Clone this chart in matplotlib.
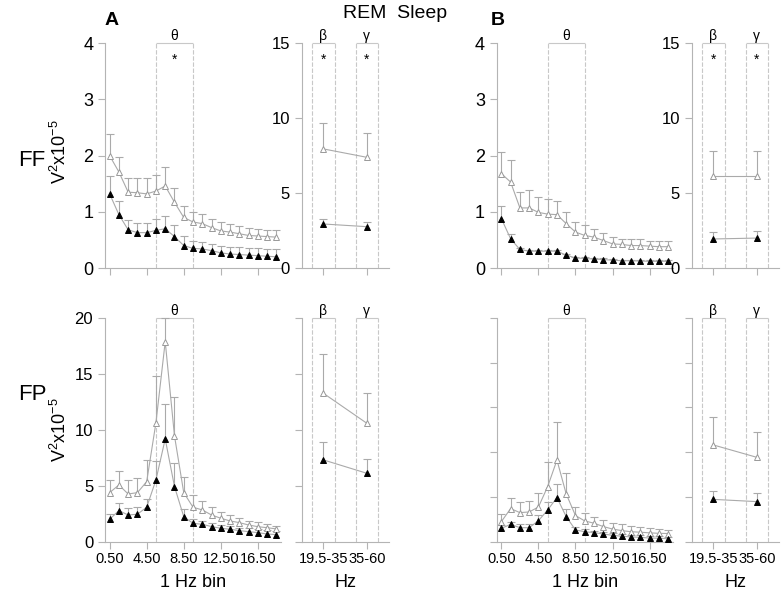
import numpy as np
import matplotlib.pyplot as plt

plt.rcParams['font.family'] = ['Liberation Sans', 'DejaVu Sans']
plt.rcParams['mathtext.fontset'] = 'custom'
plt.rcParams['mathtext.rm'] = 'Liberation Sans'
plt.rcParams['mathtext.it'] = 'Liberation Sans'

# 1 Hz bins 0.5 .. 18.5
bins = np.arange(0.5, 19, 1.0)
bin_ticks = [0.5, 4.5, 8.5, 12.5, 16.5]
bin_labels = ['0.50', '4.50', '8.50', '12.50', '16.50']
band_labels = ['19.5-35', '35-60']
band_names = ['β', 'γ']

# --- A, FF ---
a_ff_open = [2.0, 1.71, 1.35, 1.34, 1.32, 1.37, 1.46, 1.17, 0.90, 0.82, 0.79, 0.72, 0.66, 0.64, 0.61, 0.58, 0.57, 0.56, 0.55]
a_ff_open_top = [2.38, 1.98, 1.6, 1.6, 1.6, 1.65, 1.8, 1.43, 1.1, 0.99, 0.96, 0.88, 0.82, 0.78, 0.75, 0.71, 0.70, 0.68, 0.67]
a_ff_fill = [1.32, 0.95, 0.68, 0.63, 0.63, 0.67, 0.70, 0.56, 0.40, 0.35, 0.34, 0.31, 0.27, 0.25, 0.24, 0.23, 0.22, 0.21, 0.20]
a_ff_fill_top = [1.64, 1.2, 0.86, 0.8, 0.8, 0.88, 0.93, 0.76, 0.57, 0.48, 0.46, 0.43, 0.40, 0.38, 0.37, 0.36, 0.35, 0.34, 0.33]
a_ff_band_open = [7.95, 7.39]
a_ff_band_open_top = [9.67, 9.0]
a_ff_band_fill = [2.94, 2.76]
a_ff_band_fill_top = [3.27, 3.05]

# --- A, FP ---
a_fp_open = [4.42, 5.1, 4.3, 4.42, 5.4, 10.65, 17.86, 9.47, 4.42, 3.12, 2.88, 2.43, 2.14, 1.9, 1.75, 1.54, 1.39, 1.3, 1.19]
a_fp_open_top = [5.5, 6.35, 5.5, 5.7, 7.33, 14.8, 20.0, 12.9, 5.8, 4.2, 3.68, 3.18, 2.67, 2.43, 2.14, 1.9, 1.78, 1.63, 1.48]
a_fp_fill = [2.05, 2.82, 2.43, 2.5, 3.12, 5.55, 9.2, 4.96, 2.28, 1.69, 1.6, 1.4, 1.25, 1.16, 1.04, 0.95, 0.86, 0.74, 0.68]
a_fp_fill_top = [2.52, 3.47, 3.03, 3.18, 3.83, 7.24, 12.3, 7.03, 3.0, 2.08, 1.9, 1.69, 1.54, 1.45, 1.3, 1.25, 1.16, 1.1, 1.04]
a_fp_band_open = [13.26, 10.59]
a_fp_band_open_top = [16.77, 13.32]
a_fp_band_fill = [7.33, 6.14]
a_fp_band_fill_top = [8.96, 7.39]

# --- B, FF ---
b_ff_open = [1.68, 1.53, 1.07, 1.07, 0.99, 0.96, 0.95, 0.79, 0.64, 0.58, 0.55, 0.49, 0.43, 0.42, 0.40, 0.40, 0.39, 0.38, 0.38]
b_ff_open_top = [2.07, 1.93, 1.36, 1.39, 1.27, 1.23, 1.19, 1.0, 0.82, 0.76, 0.70, 0.63, 0.56, 0.52, 0.52, 0.51, 0.49, 0.49, 0.49]
b_ff_fill = [0.88, 0.52, 0.33, 0.30, 0.30, 0.30, 0.30, 0.23, 0.18, 0.17, 0.16, 0.15, 0.14, 0.13, 0.13, 0.125, 0.12, 0.12, 0.12]
b_ff_fill_top = [1.1, 0.6, 0.35, 0.32, 0.32, 0.32, 0.32, 0.25, 0.2, 0.19, 0.18, 0.17, 0.16, 0.15, 0.15, 0.145, 0.14, 0.14, 0.14]
b_ff_band_open = [6.17, 6.17]
b_ff_band_open_top = [7.8, 7.8]
b_ff_band_fill = [1.94, 2.0]
b_ff_band_fill_top = [2.43, 2.49]

# --- B, FP ---
b_fp_open = [0.92, 1.5, 1.32, 1.35, 1.57, 2.48, 3.66, 2.15, 1.19, 0.95, 0.85, 0.70, 0.59, 0.52, 0.47, 0.45, 0.42, 0.40, 0.39]
b_fp_open_top = [1.26, 1.99, 1.78, 1.85, 2.21, 3.56, 5.34, 3.07, 1.59, 1.29, 1.14, 0.99, 0.88, 0.80, 0.74, 0.67, 0.62, 0.59, 0.55]
b_fp_fill = [0.62, 0.80, 0.65, 0.65, 0.96, 1.44, 1.99, 1.14, 0.55, 0.47, 0.43, 0.37, 0.31, 0.27, 0.24, 0.22, 0.19, 0.18, 0.16]
b_fp_fill_top = [0.77, 0.92, 0.80, 0.80, 1.22, 1.78, 2.6, 1.47, 0.70, 0.59, 0.52, 0.47, 0.43, 0.38, 0.34, 0.31, 0.28, 0.26, 0.24]
b_fp_band_open = [4.33, 3.78]
b_fp_band_open_top = [5.59, 4.92]
b_fp_band_fill = [1.91, 1.81]
b_fp_band_fill_top = [2.30, 2.18]

AXIS = '#b4b4b4'
LINE = '#aaaaaa'
BOX = '#c8c8c8'


def style(ax, ymax, step, ylabels, size):
    for s in ['top', 'right']:
        ax.spines[s].set_visible(False)
    for s in ['left', 'bottom']:
        ax.spines[s].set_color(AXIS)
        ax.spines[s].set_linewidth(0.8)
    ax.set_ylim(0, ymax)
    ax.set_yticks(np.arange(0, ymax + 0.01, step))
    if not ylabels:
        ax.set_yticklabels([])
    ax.tick_params(color=AXIS, length=5, width=0.8, labelsize=size)
    ax.tick_params(axis='x', labelsize=10.5, pad=2)


def series(ax, x, y, top, filled):
    ax.vlines(x, y, top, color=LINE, lw=0.8, zorder=2, clip_on=False)
    ax.plot(x, top, ls='none', marker='_', ms=6, mew=0.8, color=LINE, clip_on=False)
    ax.plot(x, y, color=LINE, lw=0.8, marker='^', ms=5, clip_on=False, zorder=3,
            mfc='black' if filled else 'white', mec='black' if filled else '#999999', mew=0.7)


def box(ax, x0, x1, ymax, label):
    ax.vlines([x0, x1], 0, ymax, color=BOX, lw=0.8, linestyles=(0, (4, 1.5)), clip_on=False)
    ax.hlines(ymax, x0, x1, color=BOX, lw=0.8, clip_on=False)
    ax.text((x0 + x1) / 2, ymax, label, ha='center', va='bottom', fontsize=10)


def spectrum(rect, o, ot, f, ft, ymax, step, ylabels, xlabels, star, size):
    ax = fig.add_axes(rect)
    style(ax, ymax, step, ylabels, size)
    ax.set_xlim(0, 19)
    ax.set_xticks(bin_ticks)
    ax.set_xticklabels(bin_labels if xlabels else [])
    box(ax, 5.5, 9.5, ymax, 'θ')
    series(ax, bins, o, ot, False)
    series(ax, bins, f, ft, True)
    if star:
        ax.text(7.5, ymax * 0.925, '*', ha='center', va='center', fontsize=10)
    if xlabels:
        ax.set_xlabel('1 Hz bin', fontsize=13, labelpad=6)
    return ax


def band(rect, o, ot, f, ft, ymax, step, ylabels, xlabels, star, size):
    ax = fig.add_axes(rect)
    style(ax, ymax, step, ylabels, size)
    ax.set_xlim(-0.5, 1.5)
    ax.set_xticks([0, 1])
    ax.set_xticklabels(band_labels if xlabels else [])
    x = np.arange(2)
    for i in range(2):
        box(ax, i - 0.26, i + 0.26, ymax, band_names[i])
        if star:
            ax.text(i, ymax * 0.925, '*', ha='center', va='center', fontsize=10)
    series(ax, x, o, ot, False)
    series(ax, x, f, ft, True)
    if xlabels:
        ax.set_xlabel('Hz', fontsize=13, labelpad=6)
    return ax


fig = plt.figure(figsize=(7.83, 5.93), dpi=100)

top_y, bot_y, h = 0.548, 0.0855, 0.379
sw, bw = 0.2248, 0.111

spectrum([0.1341, top_y, sw, h], a_ff_open, a_ff_open_top, a_ff_fill, a_ff_fill_top, 4, 1, True, False, True, 13)
band([0.3853, top_y, bw, h], a_ff_band_open, a_ff_band_open_top, a_ff_band_fill, a_ff_band_fill_top, 15, 5, True, False, True, 12)
spectrum([0.1341, bot_y, sw, h], a_fp_open, a_fp_open_top, a_fp_fill, a_fp_fill_top, 20, 5, True, True, False, 12)
band([0.3853, bot_y, bw, h], a_fp_band_open, a_fp_band_open_top, a_fp_band_fill, a_fp_band_fill_top, 20, 5, False, True, False, 12)

spectrum([0.6344, top_y, sw, h], b_ff_open, b_ff_open_top, b_ff_fill, b_ff_fill_top, 4, 1, True, False, False, 13)
band([0.8834, top_y, bw, h], b_ff_band_open, b_ff_band_open_top, b_ff_band_fill, b_ff_band_fill_top, 15, 5, True, False, True, 12)
spectrum([0.6344, bot_y, sw, h], b_fp_open, b_fp_open_top, b_fp_fill, b_fp_fill_top, 10, 2, False, True, False, 12)
band([0.8834, bot_y, bw, h], b_fp_band_open, b_fp_band_open_top, b_fp_band_fill, b_fp_band_fill_top, 10, 2, False, True, False, 12)

ylab = r'V$^{2}$x10$^{-5}$'
fig.text(0.077, 0.745, ylab, fontsize=13, rotation=90, ha='center', va='center')
fig.text(0.077, 0.275, ylab, fontsize=13, rotation=90, ha='center', va='center')
fig.text(0.142, 0.965, 'A', fontsize=14, fontweight='bold', ha='center', va='center')
fig.text(0.636, 0.965, 'B', fontsize=14, fontweight='bold', ha='center', va='center')
fig.text(0.504, 0.978, 'REM  Sleep', fontsize=14, ha='center', va='center')
fig.text(0.041, 0.73, 'FF', fontsize=16, ha='center', va='center')
fig.text(0.041, 0.334, 'FP', fontsize=16, ha='center', va='center')

fig.savefig('out.png', dpi=100)
